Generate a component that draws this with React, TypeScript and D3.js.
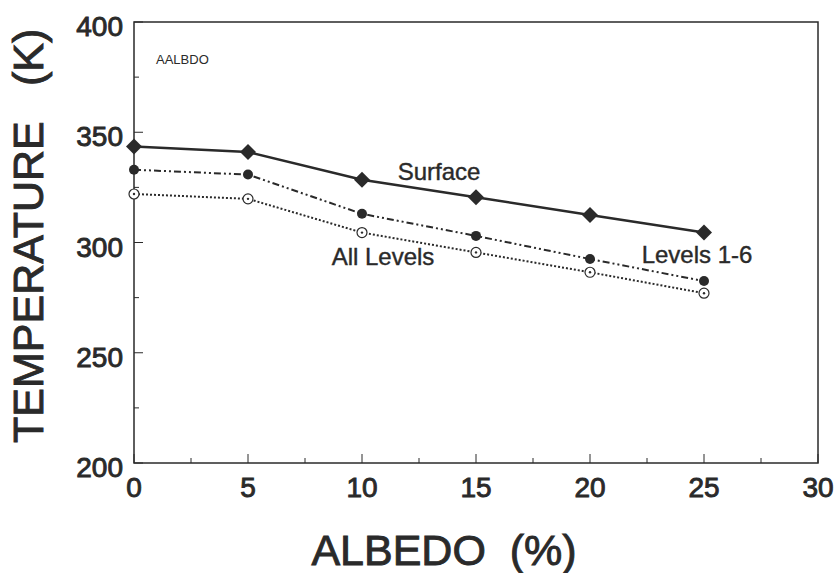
import React from "react";
import * as d3 from "d3";

const albedo = [0, 5, 10, 15, 20, 25];
const surface = [343.5, 341, 328.5, 320.5, 312.5, 304.5];
const levels16 = [333, 330.8, 313, 303, 292.5, 282.5];
const allLevels = [322, 319.8, 304.5, 295.5, 286.5, 277];
const xTicks = [0, 5, 10, 15, 20, 25, 30];
const yTicks = [200, 250, 300, 350, 400];

const W = 837, H = 573;
const M = { left: 134, right: 19, top: 22, bottom: 110 };
const ink = "#2a2a2a";
const font = "'Liberation Sans', Arial, sans-serif";

export default function App() {
  const x = d3.scaleLinear().domain([0, 30]).range([M.left, W - M.right]);
  const y = d3.scaleLinear().domain([200, 400]).range([H - M.bottom, M.top]);
  const line = d3.line<[number, number]>().x(d => x(d[0])).y(d => y(d[1]));
  const pts = (vals: number[]) => albedo.map((a, i) => [a, vals[i]] as [number, number]);
  const minorX = d3.range(2.5, 30, 5);
  const minorY = d3.range(225, 400, 50);
  const dm = 8;
  const diamond = `M0,${-dm}L${dm},0L0,${dm}L${-dm},0Z`;
  const heavy = { fontFamily: font, fill: ink, stroke: ink, strokeWidth: 0.9 } as const;
  const mid = { fontFamily: font, fill: ink, stroke: ink, strokeWidth: 0.4 } as const;
  return (
    <svg width={W} height={H} style={{ position: "absolute", left: 0, top: 0, background: "#fff" }}>
      <rect x={x(0)} y={y(400)} width={x(30) - x(0)} height={y(200) - y(400)} fill="none" stroke={ink} strokeWidth={1.5} />
      {xTicks.map(t => (
        <g key={"xt" + t}>
          <line x1={x(t)} x2={x(t)} y1={y(200)} y2={y(200) - 9} stroke={ink} strokeWidth={1} />
          <text x={x(t)} y={y(200) + 34} textAnchor="middle" fontSize={28} {...heavy}>{t}</text>
        </g>
      ))}
      {minorX.map(t => (
        <line key={"xm" + t} x1={x(t)} x2={x(t)} y1={y(200)} y2={y(200) - 5} stroke={ink} strokeWidth={1} />
      ))}
      {yTicks.map(t => (
        <g key={"yt" + t}>
          <line x1={x(0)} x2={x(0) + 9} y1={y(t)} y2={y(t)} stroke={ink} strokeWidth={1} />
          <text x={x(0) - 11} y={y(t) + 14} textAnchor="end" fontSize={28} {...heavy}>{t}</text>
        </g>
      ))}
      {minorY.map(t => (
        <line key={"ym" + t} x1={x(0)} x2={x(0) + 5} y1={y(t)} y2={y(t)} stroke={ink} strokeWidth={1} />
      ))}
      <path d={line(pts(surface)) || ""} fill="none" stroke={ink} strokeWidth={2.5} />
      <path d={line(pts(levels16)) || ""} fill="none" stroke={ink} strokeWidth={2} strokeDasharray="7,3,2,3,2,3" />
      <path d={line(pts(allLevels)) || ""} fill="none" stroke={ink} strokeWidth={2} strokeDasharray="2,2" />
      {pts(surface).map((p, i) => (
        <path key={"s" + i} d={diamond} transform={`translate(${x(p[0])},${y(p[1])})`} fill={ink} />
      ))}
      {pts(levels16).map((p, i) => (
        <circle key={"l" + i} cx={x(p[0])} cy={y(p[1])} r={5} fill={ink} />
      ))}
      {pts(allLevels).map((p, i) => (
        <g key={"a" + i}>
          <circle cx={x(p[0])} cy={y(p[1])} r={5} fill="#fff" stroke={ink} strokeWidth={1.2} />
          <circle cx={x(p[0])} cy={y(p[1])} r={1.2} fill={ink} />
        </g>
      ))}
      <text x={156} y={64} fontFamily={font} fontSize={13} fill={ink}>AALBDO</text>
      <text x={439} y={180} textAnchor="middle" fontSize={24} {...mid}>Surface</text>
      <text x={383} y={265} textAnchor="middle" fontSize={24} {...mid}>All Levels</text>
      <text x={697} y={263} textAnchor="middle" fontSize={24} {...mid}>Levels 1-6</text>
      <text x={444} y={565} textAnchor="middle" fontSize={43} {...heavy} style={{ whiteSpace: "pre" }}>ALBEDO  (%)</text>
      <text transform={`translate(43,443) rotate(-90)`} textAnchor="start" fontSize={43} {...heavy}>TEMPERATURE</text>
      <text transform={`translate(43,86) rotate(-90)`} textAnchor="start" fontSize={43} {...heavy}>(K)</text>
    </svg>
  );
}
